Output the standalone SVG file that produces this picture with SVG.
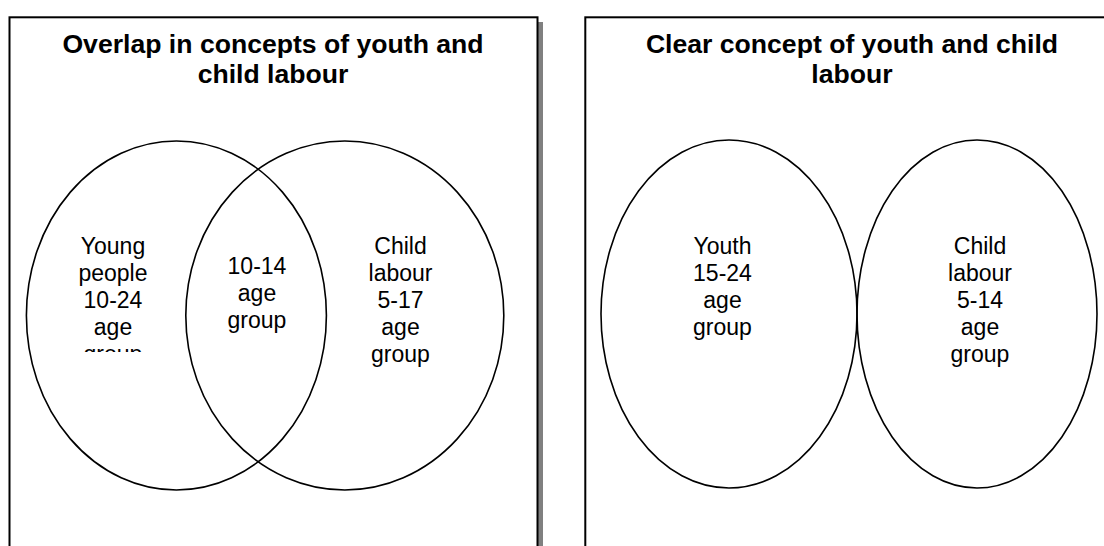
<svg xmlns="http://www.w3.org/2000/svg" width="1104" height="546" viewBox="0 0 1104 546">
  <style>
    .panel { fill: #ffffff; stroke: #000000; stroke-width: 2; }
    .shadow { fill: #808080; }
    .ell { fill: none; stroke: #000000; stroke-width: 1.6; }
    .title { font-family: "Liberation Sans", Arial, sans-serif; font-weight: bold; font-size: 26.6px; fill: #000000; text-anchor: middle; }
    .label { font-family: "Liberation Sans", Arial, sans-serif; font-size: 23px; fill: #000000; text-anchor: middle; }
  </style>
  <defs>
    <clipPath id="clipYoung">
      <rect x="40" y="220" width="150" height="132"/>
    </clipPath>
  </defs>
  <rect width="1104" height="546" fill="#ffffff"/>

  <g id="panel-overlap">
    <rect class="shadow" x="537" y="22" width="6" height="530"/>
    <rect class="panel" x="9.5" y="17.3" width="528" height="540"/>
    <text class="title" x="273" y="52.7">Overlap in concepts of youth and</text>
    <text class="title" x="273" y="83">child labour</text>
  </g>

  <g id="panel-clear">
    <rect class="panel" x="585.3" y="17.3" width="540" height="540"/>
    <text class="title" x="852" y="52.7">Clear concept of youth and child</text>
    <text class="title" x="852" y="83">labour</text>
  </g>

  <g id="young-people">
    <ellipse class="ell" cx="176.4" cy="315.5" rx="150" ry="174.5"/>
    <g clip-path="url(#clipYoung)">
      <text class="label" x="113" y="254">Young</text>
      <text class="label" x="113" y="281">people</text>
      <text class="label" x="113" y="308">10-24</text>
      <text class="label" x="113" y="335">age</text>
      <text class="label" x="113" y="362">group</text>
    </g>
  </g>

  <g id="child-labour-5-17">
    <ellipse class="ell" cx="344.8" cy="315.5" rx="159" ry="174.5"/>
    <text class="label" x="400.5" y="254">Child</text>
    <text class="label" x="400.5" y="281">labour</text>
    <text class="label" x="400.5" y="308">5-17</text>
    <text class="label" x="400.5" y="335">age</text>
    <text class="label" x="400.5" y="362">group</text>
  </g>

  <g id="overlap-10-14">
    <text class="label" x="257" y="274">10-14</text>
    <text class="label" x="257" y="301">age</text>
    <text class="label" x="257" y="328">group</text>
  </g>

  <g id="youth-15-24">
    <ellipse class="ell" cx="729" cy="314" rx="128" ry="174"/>
    <text class="label" x="722.5" y="254">Youth</text>
    <text class="label" x="722.5" y="281">15-24</text>
    <text class="label" x="722.5" y="308">age</text>
    <text class="label" x="722.5" y="335">group</text>
  </g>

  <g id="child-labour-5-14">
    <ellipse class="ell" cx="977" cy="314" rx="120" ry="174"/>
    <text class="label" x="980" y="254">Child</text>
    <text class="label" x="980" y="281">labour</text>
    <text class="label" x="980" y="308">5-14</text>
    <text class="label" x="980" y="335">age</text>
    <text class="label" x="980" y="362">group</text>
  </g>

  <g id="connectors"></g>
</svg>
